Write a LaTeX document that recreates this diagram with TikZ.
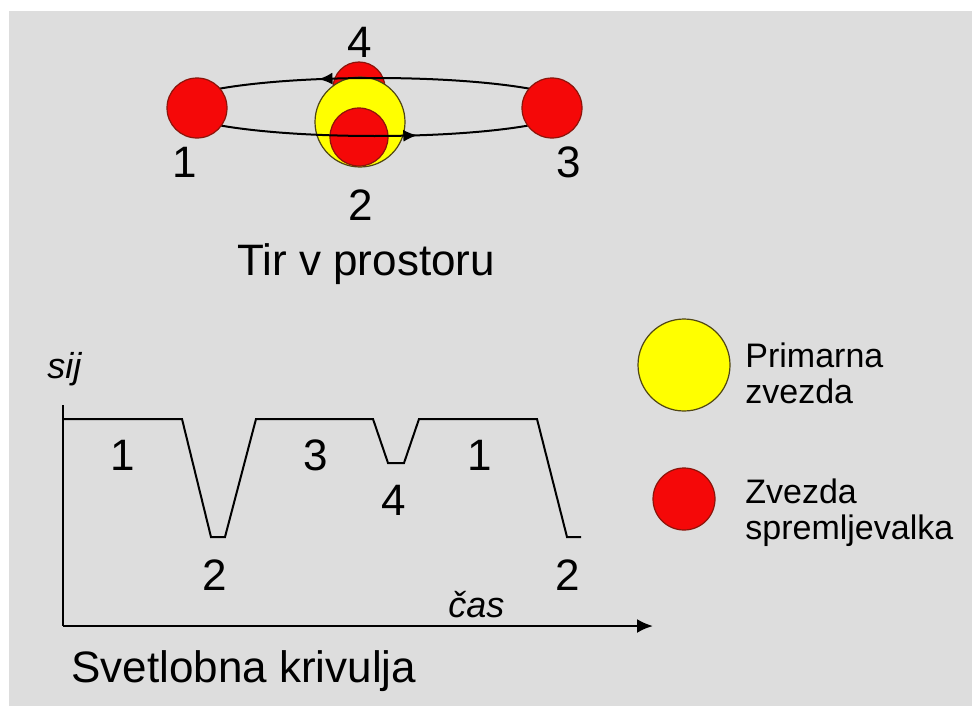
\documentclass[tikz,border=0pt]{standalone}
\usepackage{fontspec}
\setmainfont{Liberation Sans}
\usetikzlibrary{arrows.meta, decorations.markings, positioning}
\definecolor{cBg}{RGB}{221,221,221}
\definecolor{cRed}{RGB}{245,8,8}
\definecolor{cRedEdge}{RGB}{140,20,10}
\definecolor{cYel}{RGB}{255,255,0}
\definecolor{cYelEdge}{RGB}{80,70,20}

\begin{document}
\begin{tikzpicture}[x=0.5pt, y=-0.5pt,
    companion/.style={circle, draw=cRedEdge, fill=cRed, line width=0.6pt, inner sep=0pt},
    primary/.style={circle, draw=cYelEdge, fill=cYel, line width=0.6pt, inner sep=0pt},
    digit/.style={font=\fontsize{22}{26}\selectfont, inner sep=0pt},
    title/.style={font=\fontsize{22}{26}\selectfont, inner sep=0pt, anchor=base west},
    axislabel/.style={font=\fontsize{18}{22}\selectfont\itshape, inner sep=0pt, anchor=base west},
    legend/.style={font=\fontsize{17}{18}\selectfont, align=left, inner sep=0pt, anchor=west}]
    \useasboundingbox (0,0) rectangle (972,706);
    \fill[cBg] (9,11) rectangle (972,706);

    % Stars behind and in front of the primary
    \node[companion, minimum size=26pt] (s4) at (359,88) {};
    \node[primary, minimum size=45pt] (prim) at (360,122) {};
    \node[companion, minimum size=29pt] (s2) at (359,137) {};

    % Orbit with direction marks
    \draw[line width=1pt, postaction={decorate}, decoration={markings,
        mark=at position 0.318 with {\arrow{Latex[length=7pt,width=6pt]}},
        mark=at position 0.802 with {\arrow{Latex[length=7pt,width=6pt]}}}]
        (374.5,107) ellipse [x radius=100pt, y radius=14.5pt];

    % Stars at the ends of the orbit
    \node[companion, minimum size=30pt] (s1) at (197,108) {};
    \node[companion, minimum size=30pt] (s3) at (552,108) {};

    % Position labels
    \node[digit] (n4) at (360,42) {4};
    \node[digit] (n1) at (185,162) {1};
    \node[digit] (n2) at (361,205) {2};
    \node[digit] (n3) at (569,162) {3};
    \node[title] (orbit) at (237,275) {Tir v prostoru};

    % Axes
    \coordinate (ytop) at (63,405);
    \coordinate (origin) at (63,626);
    \coordinate (xend) at (653,626);
    \draw[line width=1.2pt] (ytop) -- (origin);
    \draw[line width=1.2pt, -{Latex[length=8pt,width=7pt]}] (origin) -- (xend);
    \node[axislabel] (ylab) at (47,378) {sij};
    \node[axislabel] (xlab) at (448,617) {čas};

    % Light curve
    \draw[line width=1pt] (63,419) -- (182,419) -- (211,537) -- (225,537) -- (256,419)
        -- (373,419) -- (388,463) -- (404,463) -- (419,419) -- (537,419) -- (567,537) -- (581,537);

    % Phase labels under the curve
    \node[digit] (p1) at (123,455) {1};
    \node[digit] (p2) at (215,575) {2};
    \node[digit] (p3) at (316,455) {3};
    \node[digit] (p4) at (394,500) {4};
    \node[digit] (p1b) at (480,455) {1};
    \node[digit] (p2b) at (568,575) {2};
    \node[title] (curve) at (71,682) {Svetlobna krivulja};

    % Legend
    \node[primary, minimum size=46pt] (legprim) at (684,365) {};
    \node[legend] (legprimtext) at (745,373) {Primarna\\zvezda};
    \node[companion, minimum size=31pt] (legcomp) at (684,499) {};
    \node[legend] (legcomptext) at (745,513) {Zvezda\\spremljevalka};
\end{tikzpicture}
\end{document}
